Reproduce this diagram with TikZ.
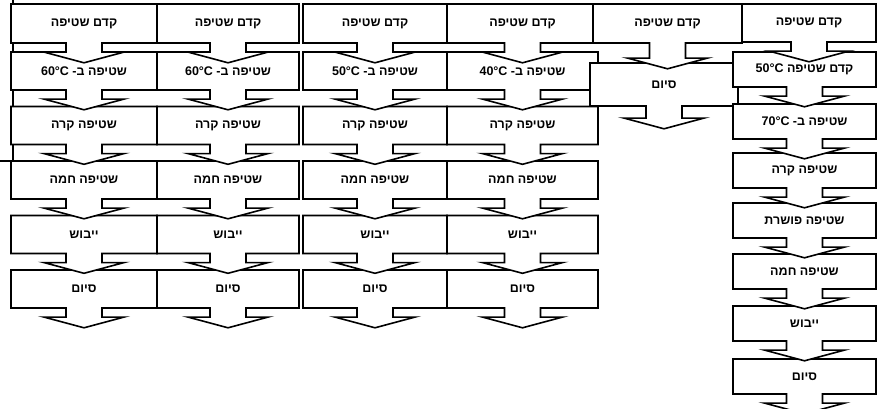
\documentclass[tikz,border=0pt]{standalone}
\usepackage{fontspec}
\setmainfont{Liberation Sans}
\newfontfamily\hebfont[Script=Hebrew]{Liberation Sans}
\TeXXeTstate=1
\usetikzlibrary{shapes.arrows}
\newcommand{\heb}[1]{\beginR #1\endR}
\newcommand{\degc}[1]{\beginL #1°C\endL}
\tikzset{
  stepbox/.style={arrow box, draw, fill=white, line width=1.6pt, inner sep=0pt,
    arrow box arrows={south:19pt}, arrow box shaft width=36pt,
    arrow box head extend=22pt, arrow box tip angle=150,
    font=\hebfont\bfseries\fontsize{12.5pt}{14pt}\selectfont},
}
\begin{document}
\begin{tikzpicture}[x=1pt,y=-1pt]
  \clip (0,0) rectangle (877,409);
  \useasboundingbox (0,0) rectangle (877,409);
  % cut-off box on the left edge
  \draw[line width=1.6pt] (-20,-20) rectangle (13,161);
  % four programmes with the same steps
  \foreach \col/\cx/\w/\t in {1/84/146/60, 2/228/142/60, 3/375/144/50, 4/522.5/151/40} {
    \foreach \row/\cy/\txt in {6/289/{סיום}, 5/234.5/{ייבוש}, 4/180/{שטיפה חמה},
        3/125.5/{שטיפה קרה}, 2/71/{שטיפה ב- \degc{\t}}} {
      \node[stepbox, minimum width=\w pt, minimum height=38pt] (c\col r\row) at (\cx,\cy) {\heb{\txt}};
    }
    \node[stepbox, minimum width=\w pt, minimum height=39pt] (c\col r1) at (\cx,23.5) {\heb{קדם שטיפה}};
  }
  % short programme
  \node[stepbox, minimum width=148pt, minimum height=43pt, arrow box arrows={south:22pt}]
    (c5r2) at (664,84.5) {\heb{סיום}};
  \node[stepbox, minimum width=149pt, minimum height=39pt, arrow box arrows={south:25pt}]
    (c5r1) at (667.5,23.5) {\heb{קדם שטיפה}};
  % long programme
  \foreach \row/\cy/\txt in {8/376.5/{סיום}, 7/323.5/{ייבוש}, 6/271.5/{שטיפה חמה},
      5/220.5/{שטיפה פושרת}, 4/170.5/{שטיפה קרה}, 3/121.5/{שטיפה ב- \degc{70}},
      2/69.5/{קדם שטיפה \degc{50}}} {
    \node[stepbox, minimum width=143pt, minimum height=35pt] (c6r\row) at (804.5,\cy) {\heb{\txt}};
  }
  \node[stepbox, minimum width=134pt, minimum height=38pt] (c6r1) at (809,23) {\heb{קדם שטיפה}};
\end{tikzpicture}
\end{document}
